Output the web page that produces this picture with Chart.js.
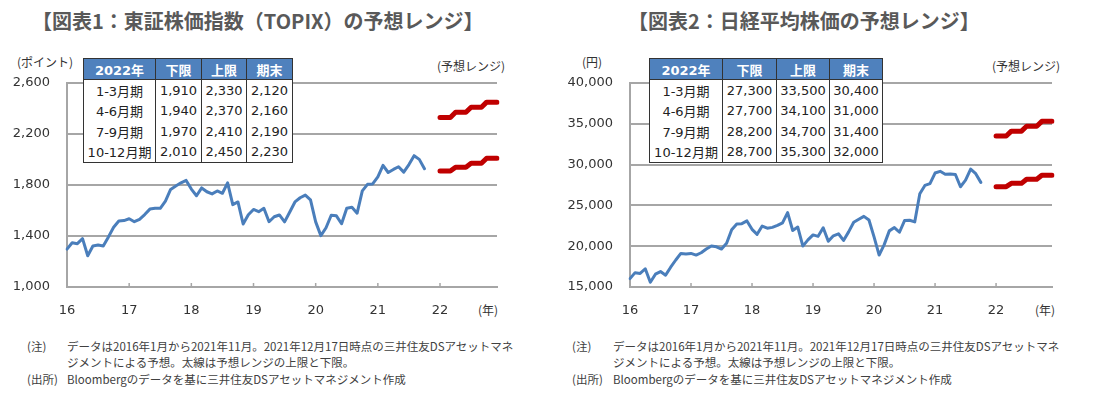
<!DOCTYPE html>
<html>
<head>
<meta charset="utf-8">
<script src="https://cdn.jsdelivr.net/npm/chart.js@4.4.1/dist/chart.umd.min.js"></script>
<style>
  body { margin: 0; width: 1099px; height: 397px; background: #fff; position: relative; overflow: hidden;
         font-family: "Noto Sans CJK JP", sans-serif; color: #333; }
  .abs { position: absolute; white-space: nowrap; line-height: 1; }
  .title { font-size: 20px; font-weight: bold; color: #595959; top: 11px; }
  .unit { font-size: 12px; color: #333; }
  .note { font-size: 11.5px; color: #404040; }
  canvas { position: absolute; top: 0; }
  table { position: absolute; border-collapse: collapse; background: #fff; table-layout: fixed;
          font-family: "DejaVu Sans", "Noto Sans CJK JP", sans-serif; font-size: 13px; color: #222;
          border: 1.5px solid #333; }
  th { background: #4f81bd; color: #fff; font-weight: bold; height: 20px; padding: 0;
       border-left: 1.5px solid #333; border-bottom: 1.5px solid #333; }
  td { height: 20.5px; padding: 0; text-align: center; border-left: 1.5px solid #333; }
</style>
</head>
<body>

<div class="abs title" style="left:32px">【図表1：東証株価指数（TOPIX）の予想レンジ】</div>
<div class="abs title" style="left:628px">【図表2：日経平均株価の予想レンジ】</div>

<div class="abs unit" style="left:17px;top:56px">(ポイント)</div>
<div class="abs unit" style="left:437px;top:60px">(予想レンジ)</div>
<div class="abs unit" style="left:478px;top:304px">(年)</div>
<div class="abs unit" style="left:582px;top:56px">(円)</div>
<div class="abs unit" style="left:992px;top:60px">(予想レンジ)</div>
<div class="abs unit" style="left:1035px;top:304px">(年)</div>

<canvas id="c1" width="549" height="330" style="left:0"></canvas>
<canvas id="c2" width="550" height="330" style="left:549px"></canvas>

<table id="t1" style="left:83px;top:58px"></table>
<table id="t2" style="left:649px;top:58px"></table>

<div class="abs note" style="left:27px;top:341px">(注)</div>
<div class="abs note" style="left:67px;top:341px">データは2016年1月から2021年11月。2021年12月17日時点の三井住友DSアセットマネ</div>
<div class="abs note" style="left:67px;top:357px">ジメントによる予想。太線は予想レンジの上限と下限。</div>
<div class="abs note" style="left:27px;top:374px">(出所)</div>
<div class="abs note" style="left:67px;top:374px">Bloombergのデータを基に三井住友DSアセットマネジメント作成</div>

<div class="abs note" style="left:572px;top:341px">(注)</div>
<div class="abs note" style="left:613px;top:341px">データは2016年1月から2021年11月。2021年12月17日時点の三井住友DSアセットマネ</div>
<div class="abs note" style="left:613px;top:357px">ジメントによる予想。太線は予想レンジの上限と下限。</div>
<div class="abs note" style="left:572px;top:374px">(出所)</div>
<div class="abs note" style="left:613px;top:374px">Bloombergのデータを基に三井住友DSアセットマネジメント作成</div>

<script>
// monthly categories Jan 2016 .. Dec 2022
const years = [16, 17, 18, 19, 20, 21, 22];
const months = years.flatMap(y => Array.from({ length: 12 }, (_, m) => y + '/' + (m + 1)));
const yearTicks = ['16', '17', '18', '19', '20', '21', '22'];
const forecastMonths = months.slice(72);

const topix = [
  1297, 1347, 1340, 1379, 1245, 1322, 1329, 1322, 1393, 1469, 1518,
  1521, 1535, 1512, 1531, 1568, 1611, 1618, 1617, 1674, 1765, 1792, 1817,
  1836, 1768, 1716, 1777, 1747, 1730, 1753, 1735, 1817, 1646, 1667, 1494,
  1567, 1608, 1591, 1617, 1512, 1551, 1565, 1511, 1588, 1667, 1700, 1721,
  1684, 1511, 1403, 1465, 1563, 1558, 1496, 1618, 1625, 1579, 1754, 1805,
  1808, 1864, 1954, 1898, 1922, 1943, 1901, 1960, 2030, 2001, 1928
];
const nikkei = [
  16027, 16759, 16666, 17235, 15576, 16569, 16887, 16450, 17425, 18308, 19114,
  19041, 19119, 18909, 19197, 19651, 20033, 19925, 19646, 20356, 22012, 22725, 22765,
  23098, 22068, 21454, 22468, 22202, 22305, 22554, 22865, 24120, 21920, 22351, 20015,
  20773, 21385, 21206, 22259, 20601, 21276, 21522, 20704, 21756, 22927, 23294, 23657,
  23205, 21143, 18917, 20194, 21878, 22288, 21710, 23140, 23185, 22977, 26434, 27444,
  27663, 28966, 29179, 28813, 28860, 28792, 27284, 28090, 29453, 28893, 27822
];

// 2022 forecast table
const quarters = ['1-3月期', '4-6月期', '7-9月期', '10-12月期'];
const topixLow = [1910, 1940, 1970, 2010];
const topixHigh = [2330, 2370, 2410, 2450];
const topixEnd = [2120, 2160, 2190, 2230];
const nikkeiLow = [27300, 27700, 28200, 28700];
const nikkeiHigh = [33500, 34100, 34700, 35300];
const nikkeiEnd = [30400, 31000, 31400, 32000];

const fmt = v => v.toLocaleString('en-US');
const gridColor = '#a6a6a6';

function fillTable(id, colWidths, low, high, end) {
  const t = document.getElementById(id);
  let html = '<colgroup>' + colWidths.map(w => '<col style="width:' + w + 'px">').join('') + '</colgroup>';
  html += '<tr><th>2022年</th><th>下限</th><th>上限</th><th>期末</th></tr>';
  quarters.forEach((q, i) => {
    html += '<tr><td>' + q + '</td><td>' + fmt(low[i]) + '</td><td>' + fmt(high[i]) + '</td><td>' + fmt(end[i]) + '</td></tr>';
  });
  t.innerHTML = html;
}
fillTable('t1', [72, 46, 45, 46], topixLow, topixHigh, topixEnd);
fillTable('t2', [73, 54, 53, 53], nikkeiLow, nikkeiHigh, nikkeiEnd);

// monthly steps from the quarterly range
const toMonthly = q => q.flatMap(v => [v, v, v]).map((v, i) => ({ x: forecastMonths[i], y: v }));

const innerTicks = {
  id: 'innerTicks',
  afterDraw(chart) {
    const x = chart.scales.x, ctx = chart.ctx, bottom = chart.chartArea.bottom;
    ctx.save();
    ctx.strokeStyle = gridColor;
    ctx.lineWidth = 1.5;
    x.ticks.forEach((t, i) => {
      const px = x.getPixelForTick(i);
      ctx.beginPath();
      ctx.moveTo(px, bottom);
      ctx.lineTo(px, bottom - 4);
      ctx.stroke();
    });
    ctx.restore();
  }
};

function makeChart(id, actual, low, high, min, max, step, yWidth, padRight) {
  const red = {
    borderColor: '#c00000', borderWidth: 5, pointRadius: 0,
    borderCapStyle: 'round', borderJoinStyle: 'round', tension: 0
  };
  return new Chart(document.getElementById(id), {
    type: 'line',
    data: {
      labels: months,
      datasets: [
        { data: actual, borderColor: '#4a7ebb', borderWidth: 3, pointRadius: 0,
          borderJoinStyle: 'round', borderCapStyle: 'round', tension: 0 },
        Object.assign({ data: toMonthly(low) }, red),
        Object.assign({ data: toMonthly(high) }, red)
      ]
    },
    options: {
      responsive: false,
      animation: false,
      layout: { padding: { top: 83, right: padRight, left: 0, bottom: 0 } },
      plugins: { legend: { display: false }, tooltip: { enabled: false } },
      scales: {
        x: {
          grid: { display: false },
          border: { display: true, color: gridColor, width: 2 },
          afterBuildTicks: s => { s.ticks = s.ticks.filter(t => t.value % 12 === 0); },
          afterFit: s => { s.height = 43; },
          ticks: {
            autoSkip: false, maxRotation: 0, padding: 8, color: '#333',
            font: { family: 'DejaVu Sans', size: 13 },
            callback: v => yearTicks[v / 12]
          }
        },
        y: {
          min: min, max: max,
          grid: { color: gridColor, lineWidth: 2, drawTicks: false },
          border: { display: true, color: gridColor, width: 2 },
          afterFit: s => { s.width = yWidth; },
          ticks: {
            stepSize: step, padding: 17, color: '#333',
            font: { family: 'DejaVu Sans', size: 13 },
            callback: v => fmt(v)
          }
        }
      }
    },
    plugins: [innerTicks]
  });
}

makeChart('c1', topix, topixLow, topixHigh, 1000, 2600, 400, 67, 52);
makeChart('c2', nikkei, nikkeiLow, nikkeiHigh, 15000, 40000, 5000, 81, 47);
</script>
</body>
</html>
